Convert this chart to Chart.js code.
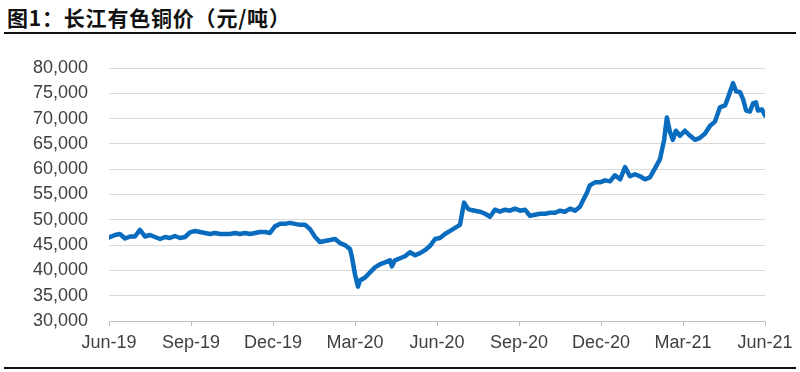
<!DOCTYPE html>
<html>
<head>
<meta charset="utf-8">
<script src="https://cdn.jsdelivr.net/npm/chart.js@4/dist/chart.umd.min.js"></script>
<style>
  html, body { margin: 0; padding: 0; background: #fff; }
  #wrap { position: relative; width: 800px; height: 372px; overflow: hidden; }
  #title { position: absolute; left: 7px; top: 2px; font-family: "Noto Sans CJK SC", sans-serif; font-weight: bold; font-size: 21px; letter-spacing: 0.8px; color: #111; white-space: nowrap; }
  #rule1 { position: absolute; left: 4px; top: 32px; width: 792px; height: 2px; background: #111; }
  #rule2 { position: absolute; left: 4px; top: 367px; width: 792px; height: 2px; background: #111; }
  #c { position: absolute; left: 0; top: 0; }
</style>
</head>
<body>
<div id="wrap">
  <div id="title">图1：长江有色铜价（元/吨）</div>
  <div id="rule1"></div>
  <canvas id="c" width="800" height="372"></canvas>
  <div id="rule2"></div>
</div>
<script>
// x position in months since Jun-19
const monthsFromJun19 = [0.00,0.22,0.40,0.59,0.77,0.95,1.13,1.32,1.50,1.68,1.87,2.05,2.23,2.41,2.60,2.78,2.96,3.15,3.33,3.51,3.70,3.88,4.06,4.24,4.43,4.61,4.79,4.98,5.16,5.34,5.52,5.71,5.89,6.07,6.26,6.44,6.62,6.80,6.99,7.17,7.35,7.54,7.72,7.90,8.09,8.27,8.45,8.63,8.82,8.89,9.00,9.11,9.18,9.37,9.55,9.73,9.91,10.10,10.28,10.35,10.46,10.65,10.83,11.01,11.20,11.38,11.56,11.74,11.93,12.11,12.29,12.48,12.66,12.84,12.99,13.13,13.21,13.39,13.57,13.76,13.94,14.12,14.30,14.49,14.67,14.85,15.04,15.22,15.40,15.59,15.77,15.95,16.13,16.32,16.50,16.68,16.87,17.05,17.23,17.34,17.49,17.59,17.78,17.96,18.15,18.33,18.51,18.70,18.88,19.06,19.24,19.43,19.61,19.79,19.98,20.16,20.31,20.41,20.52,20.63,20.74,20.89,21.07,21.26,21.44,21.62,21.80,21.99,22.17,22.35,22.54,22.65,22.83,22.94,23.09,23.20,23.31,23.45,23.56,23.67,23.74,23.89,24.00];
// 长江有色铜价 (元/吨)
const copperPrice = [46500,47000,47200,46300,46700,46700,48000,46700,47000,46600,46200,46600,46400,46800,46400,46600,47500,47800,47600,47400,47200,47400,47200,47200,47200,47400,47200,47400,47200,47400,47600,47600,47400,48700,49200,49200,49400,49200,49000,49000,48200,46600,45600,45800,46000,46200,45400,45000,44200,42600,39200,36800,38000,38600,39600,40600,41200,41600,42000,40800,42000,42400,42800,43600,43000,43400,44000,44800,46200,46400,47200,47800,48400,49000,53400,52200,52000,51800,51600,51200,50600,52000,51600,52000,51800,52200,51800,52000,50800,51000,51200,51200,51400,51400,51800,51600,52200,51800,52600,53800,55400,56800,57400,57400,57800,57600,58800,58000,60400,58600,59000,58600,58000,58400,60200,62000,65800,70200,67400,65800,67600,66600,67600,66600,65800,66200,67000,68600,69400,72200,72600,74200,77000,75400,75200,73800,71600,71400,73000,73200,71600,71800,70600];
const tickLabels = ["Jun-19","Sep-19","Dec-19","Mar-20","Jun-20","Sep-20","Dec-20","Mar-21","Jun-21"];
const yMin = 30000, yMax = 80000, yStep = 5000;

const points = monthsFromJun19.map((t, i) => ({ x: t, y: copperPrice[i] }));
const FONT = { family: "'Liberation Sans', Arial, sans-serif", size: 18 };

new Chart(document.getElementById('c'), {
  type: 'line',
  data: {
    datasets: [{
      data: points,
      borderColor: '#0A6CBF',
      borderWidth: 4.5,
      pointRadius: 0,
      tension: 0,
      borderJoinStyle: 'round',
      borderCapStyle: 'round',
      fill: false
    }]
  },
  options: {
    responsive: false,
    animation: false,
    events: [],
    layout: { padding: { top: 68, right: 35, left: 0, bottom: 0 } },
    plugins: { legend: { display: false }, tooltip: { enabled: false }, title: { display: false } },
    scales: {
      x: {
        type: 'linear',
        min: 0,
        max: (tickLabels.length - 1) * 3,
        afterBuildTicks: (s) => { s.ticks = tickLabels.map((_, i) => ({ value: i * 3 })); },
        afterFit: (s) => { s.height = 372 - 321; },
        ticks: {
          autoSkip: false,
          maxRotation: 0,
          color: '#404040',
          font: FONT,
          padding: 6,
          callback: (v) => tickLabels[Math.round(v / 3)]
        },
        grid: { drawOnChartArea: false, drawTicks: true, tickLength: 5, color: '#BFBFBF' },
        border: { display: true, color: '#BFBFBF', width: 1 }
      },
      y: {
        min: yMin,
        max: yMax,
        afterFit: (s) => { s.width = 109; },
        ticks: {
          stepSize: yStep,
          color: '#404040',
          font: FONT,
          padding: 21,
          callback: (v) => v.toLocaleString('en-US')
        },
        grid: { color: '#D9D9D9', lineWidth: 1, drawTicks: false },
        border: { display: false }
      }
    }
  }
});
</script>
</body>
</html>
